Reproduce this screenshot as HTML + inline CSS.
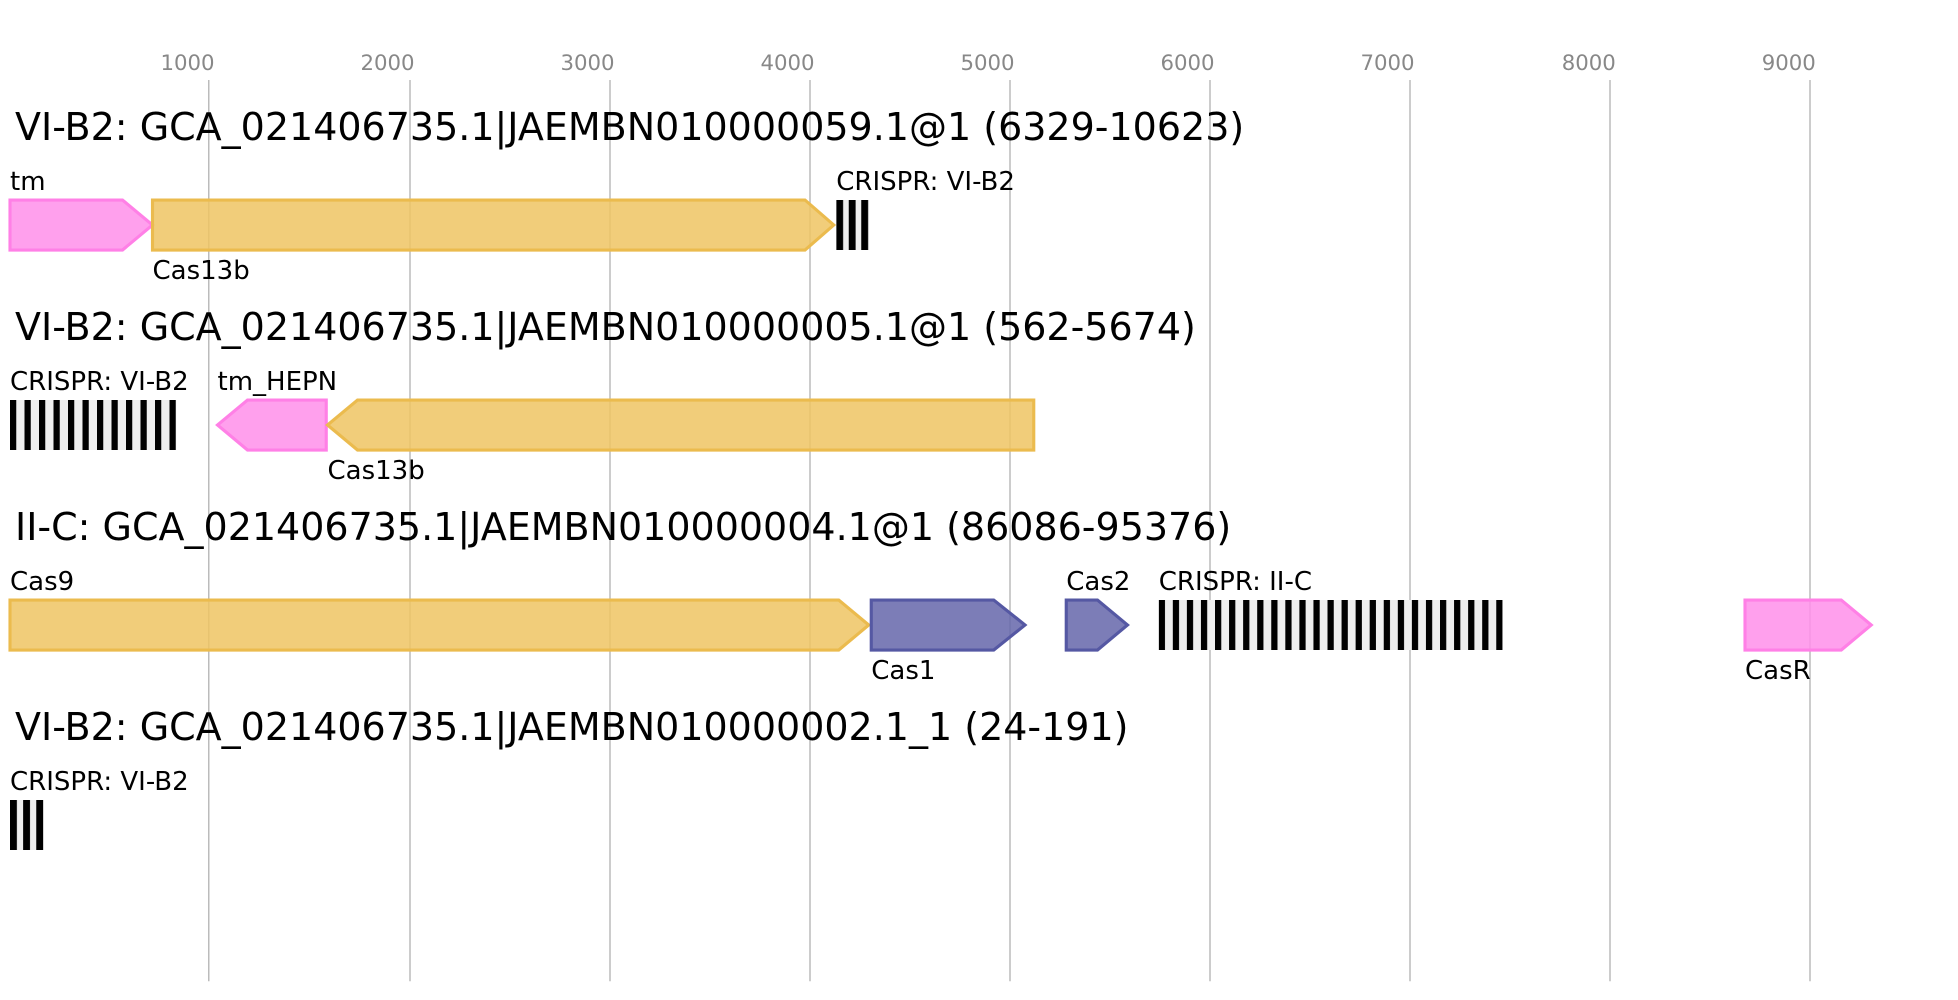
<!DOCTYPE html>
<html><head><meta charset="utf-8"><style>html,body{margin:0;padding:0;background:#fff}svg{display:block}</style></head>
<body>
<svg width="1958" height="1000" viewBox="0 0 1566.4 800" preserveAspectRatio="none" xmlns="http://www.w3.org/2000/svg" font-family="'DejaVu Sans','Liberation Sans',sans-serif">
<defs>
<pattern id="p1" patternUnits="userSpaceOnUse" x="669" y="0" width="10" height="10"><rect width="10" height="10" fill="#eee"/><rect width="5.5" height="10" fill="#000"/></pattern>
<pattern id="p2" patternUnits="userSpaceOnUse" x="8" y="0" width="11.6" height="10"><rect width="11.6" height="10" fill="#eee"/><rect width="5" height="10" fill="#000"/></pattern>
<pattern id="p3" patternUnits="userSpaceOnUse" x="927" y="0" width="11.25" height="10"><rect width="11.25" height="10" fill="#eee"/><rect width="5" height="10" fill="#000"/></pattern>
<pattern id="p4" patternUnits="userSpaceOnUse" x="8" y="0" width="10.5" height="10"><rect width="10.5" height="10" fill="#eee"/><rect width="5.5" height="10" fill="#000"/></pattern>
</defs>
<g stroke="#bbb" stroke-width="1.2">
<line x1="167" y1="64" x2="167" y2="785"/><line x1="328" y1="64" x2="328" y2="785"/><line x1="488" y1="64" x2="488" y2="785"/><line x1="648" y1="64" x2="648" y2="785"/><line x1="808" y1="64" x2="808" y2="785"/><line x1="968" y1="64" x2="968" y2="785"/><line x1="1128" y1="64" x2="1128" y2="785"/><line x1="1288" y1="64" x2="1288" y2="785"/><line x1="1448" y1="64" x2="1448" y2="785"/>
</g>
<g fill="#888" font-size="17" text-anchor="middle">
<text x="150" y="56">1000</text><text x="310" y="56">2000</text><text x="470" y="56">3000</text><text x="630" y="56">4000</text><text x="790" y="56">5000</text><text x="950" y="56">6000</text><text x="1110" y="56">7000</text><text x="1271" y="56">8000</text><text x="1431" y="56">9000</text>
</g>
<g font-size="30.4" fill="#000">
<text x="12" y="112">VI-B2: GCA_021406735.1|JAEMBN010000059.1@1 (6329-10623)</text>
<text x="12" y="272">VI-B2: GCA_021406735.1|JAEMBN010000005.1@1 (562-5674)</text>
<text x="12" y="432">II-C: GCA_021406735.1|JAEMBN010000004.1@1 (86086-95376)</text>
<text x="12" y="592">VI-B2: GCA_021406735.1|JAEMBN010000002.1_1 (24-191)</text>
</g>
<g stroke-width="2.5" fill-opacity="0.85">
<polygon points="8,160 98,160 122,180 98,200 8,200" fill="#ff8fea" stroke="#ff80e6"/>
<polygon points="122,160 644,160 667,180 644,200 122,200" fill="#efc463" stroke="#ebbb4e"/>
<polygon points="261,320 198,320 174,340 198,360 261,360" fill="#ff8fea" stroke="#ff80e6"/>
<polygon points="827,320 286,320 262,340 286,360 827,360" fill="#efc463" stroke="#ebbb4e"/>
<polygon points="8,480 671,480 695,500 671,520 8,520" fill="#efc463" stroke="#ebbb4e"/>
<polygon points="697,480 795,480 820,500 795,520 697,520" fill="#6566aa" stroke="#5558a3"/>
<polygon points="853,480 878,480 902,500 878,520 853,520" fill="#6566aa" stroke="#5558a3"/>
<polygon points="1396,480 1473,480 1497,500 1473,520 1396,520" fill="#ff8fea" stroke="#ff80e6"/>
</g>
<rect x="669" y="160" width="26" height="40" fill="url(#p1)"/>
<rect x="8" y="320" width="133" height="40" fill="url(#p2)"/>
<rect x="927" y="480" width="275" height="40" fill="url(#p3)"/>
<rect x="8" y="640" width="27" height="40" fill="url(#p4)"/>
<g font-size="20.8" fill="#000">
<text x="8" y="152">tm</text><text x="669" y="152">CRISPR: VI-B2</text><text x="122" y="223">Cas13b</text>
<text x="8" y="312">CRISPR: VI-B2</text><text x="174" y="312">tm_HEPN</text><text x="262" y="383">Cas13b</text>
<text x="8" y="472">Cas9</text><text x="853" y="472">Cas2</text><text x="927" y="472">CRISPR: II-C</text><text x="697" y="543">Cas1</text><text x="1396" y="543">CasR</text>
<text x="8" y="632">CRISPR: VI-B2</text>
</g>
</svg>
</body></html>
